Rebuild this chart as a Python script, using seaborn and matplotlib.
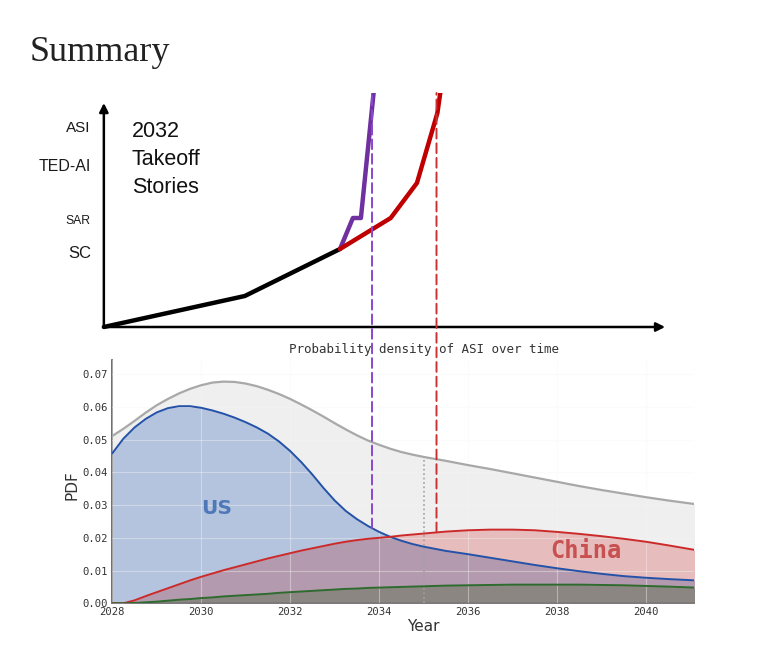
import numpy as np
import matplotlib.pyplot as plt
import seaborn as sns
from matplotlib.patches import ConnectionPatch

# ---- probability density of ASI arrival ----
years = [2028.0, 2028.25, 2028.5, 2028.75, 2029.0, 2029.25, 2029.5, 2029.75,
         2030.0, 2030.25, 2030.5, 2030.75, 2031.0, 2031.25, 2031.5, 2031.75,
         2032.0, 2032.25, 2032.5, 2032.75, 2033.0, 2033.25, 2033.5, 2033.75,
         2034.0, 2034.25, 2034.5, 2034.75, 2035.0,
         2035.5, 2036.0, 2036.5, 2037.0, 2037.5, 2038.0, 2038.5, 2039.0,
         2039.5, 2040.0, 2040.5, 2041.1]
all_pdf = [0.0511, 0.0533, 0.0557, 0.0582, 0.0605, 0.0624, 0.0641, 0.0655,
           0.0666, 0.0674, 0.0677, 0.0676, 0.0671, 0.0663, 0.0652, 0.0639,
           0.0624, 0.0607, 0.0589, 0.0570, 0.0550, 0.0531, 0.0513, 0.0497,
           0.0484, 0.0472, 0.0462, 0.0454, 0.0447,
           0.0435, 0.0422, 0.0410, 0.0397, 0.0384, 0.0371, 0.0358, 0.0346,
           0.0335, 0.0324, 0.0314, 0.0303]
us_pdf = [0.0458, 0.0503, 0.0537, 0.0563, 0.0583, 0.0596, 0.0602, 0.0602,
          0.0597, 0.0589, 0.0579, 0.0567, 0.0553, 0.0537, 0.0518, 0.0494,
          0.0465, 0.0431, 0.0393, 0.0352, 0.0314, 0.0282, 0.0257, 0.0236,
          0.0218, 0.0203, 0.0191, 0.0181, 0.0173,
          0.0160, 0.0150, 0.0139, 0.0128, 0.0117, 0.0107, 0.0098, 0.0090,
          0.0083, 0.0078, 0.0074, 0.0070]
china_pdf = [0.0, 0.0, 0.0009, 0.0022, 0.0034, 0.0046, 0.0058, 0.0070,
             0.0081, 0.0091, 0.0101, 0.0110, 0.0119, 0.0128, 0.0137, 0.0145,
             0.0153, 0.0161, 0.0168, 0.0175, 0.0182, 0.0188, 0.0193, 0.0197,
             0.0200, 0.0203, 0.0207, 0.0210, 0.0213,
             0.0219, 0.0223, 0.0225, 0.0225, 0.0223, 0.0218, 0.0212, 0.0205,
             0.0197, 0.0188, 0.0177, 0.0163]
other_pdf = [0.0, 0.0, 0.0001, 0.0003, 0.0005, 0.0008, 0.0011, 0.0013,
             0.0016, 0.0018, 0.0021, 0.0023, 0.0025, 0.0027, 0.0029, 0.0032,
             0.0034, 0.0036, 0.0038, 0.0040, 0.0042, 0.0044, 0.0045, 0.0047,
             0.0048, 0.0049, 0.0050, 0.0051, 0.0052,
             0.0054, 0.0055, 0.0056, 0.0057, 0.0057, 0.0057, 0.0057, 0.0056,
             0.0055, 0.0053, 0.0051, 0.0048]

x_ticks = [2028, 2030, 2032, 2034, 2036, 2038, 2040]
y_ticks = [0.00, 0.01, 0.02, 0.03, 0.04, 0.05, 0.06, 0.07]

# when each takeoff story hits ASI, and the pdf there
us_asi_year, us_asi_pdf = 2033.84, 0.0229
china_asi_year, china_asi_pdf = 2035.29, 0.0217
median_year, median_pdf = 2035.0, 0.0447

# ---- takeoff stories (capability over time) ----
milestones = ['SC', 'SAR', 'TED-AI', 'ASI']
milestone_levels = [75, 108, 162, 200]
milestone_sizes = [12, 8.7, 11.5, 11]
shared_years = [2027.81, 2030.98, 2033.12]
shared_level = [0, 31, 78]
us_story_years = [2033.12, 2033.41, 2033.59, 2033.90]
us_story_level = [78, 109, 109, 245]
china_story_years = [2033.12, 2034.26, 2034.85, 2035.31, 2035.41]
china_story_level = [78, 109, 144, 214, 245]

sns.set_theme(style='white')
plt.rcParams['font.family'] = ['DejaVu Sans']

W, H = 765, 661
fig = plt.figure(figsize=(W / 100, H / 100), dpi=100)

# lower panel: pixel box
x0, x1, yb, yt = 112.3, 694.0, 603.3, 360.0
xlim = (2028, 2041.08)
ylim = (0, 0.0743)
ax = fig.add_axes([x0 / W, 1 - yb / H, (x1 - x0) / W, (yb - yt) / H])
px_per_year = (x1 - x0) / (xlim[1] - xlim[0])

# upper panel shares the year scale
tx0, tyb, tyt = 95.0, 335.0, 93.0
ax_top = fig.add_axes([tx0 / W, 1 - tyb / H, (x1 - tx0) / W, (tyb - tyt) / H])
ax_top.set_xlim(xlim[0] - (x0 - tx0) / px_per_year, xlim[1])
ax_top.set_ylim(-8, 234)

yrs = np.array(years)
tot = np.array(all_pdf)
us = np.array(us_pdf)
cn = np.array(china_pdf)
ot = np.array(other_pdf)

ax.fill_between(yrs, 0, tot, color='#efefef', lw=0)
ax.fill_between(yrs, 0, us, color='#b4c4de', lw=0)
ax.fill_between(yrs, 0, cn, color='#e6bcbc', lw=0)
ax.fill_between(yrs, 0, np.minimum(us, cn), color='#b49aae', lw=0)
ax.fill_between(yrs, 0, ot, color='#8c8682', lw=0)

sns.lineplot(x=yrs, y=tot, ax=ax, color='#a8a8a8', lw=1.6, zorder=3)
sns.lineplot(x=yrs, y=us, ax=ax, color='#2352a8', lw=1.4, zorder=3)
sns.lineplot(x=yrs, y=cn, ax=ax, color='#cc2a2a', lw=1.4, zorder=3)
sns.lineplot(x=yrs, y=ot, ax=ax, color='#2e6b2e', lw=1.4, zorder=3)

ax.vlines(median_year, 0, median_pdf, colors='#a0a0a0', linestyles=':', lw=1.2, zorder=3)

ax.set_xlim(*xlim)
ax.set_ylim(*ylim)
ax.set_xticks(x_ticks)
ax.set_yticks(y_ticks)
ax.set_yticklabels([f'{v:.2f}' for v in y_ticks])
ax.tick_params(length=0, labelsize=7.6, colors='#333333', pad=3)
for lab in ax.get_xticklabels() + ax.get_yticklabels():
    lab.set_family('DejaVu Sans Mono')
ax.set_axisbelow(False)
ax.grid(True, color='#f6f6f6', lw=0.8, alpha=0.4)
for s in ['top', 'right']:
    ax.spines[s].set_visible(False)
ax.spines['left'].set_color('#555555')
ax.spines['bottom'].set_color('#777777')
ax.spines['left'].set_linewidth(1.2)
ax.spines['bottom'].set_linewidth(1.2)

ax.set_xlabel('Year', fontsize=11, color='#333333')
ax.xaxis.set_label_coords(0.534, -0.065)
ax.set_ylabel('PDF', fontsize=11, color='#333333')
ax.yaxis.set_label_coords(-0.056, 0.486)

ax.text(2030.35, 0.0273, 'US', color='#4f78b8', fontsize=14.5, fontweight='bold',
        family='DejaVu Sans', ha='center', va='baseline', zorder=4)
ax.text(2038.64, 0.0138, 'China', color='#c85050', fontsize=17, fontweight='bold',
        family='DejaVu Sans Mono', ha='center', va='baseline', zorder=4)

fig.text(424 / W, 1 - 349 / H, 'Probability density of ASI over time',
         family='DejaVu Sans Mono', fontsize=9, color='#333333', ha='center', va='center')

# ---- top diagram ----
sns.lineplot(x=shared_years, y=shared_level, ax=ax_top, color='black', lw=3.2, sort=False)
sns.lineplot(x=us_story_years, y=us_story_level, ax=ax_top, color='#7030a0', lw=3.2, sort=False)
sns.lineplot(x=china_story_years, y=china_story_level, ax=ax_top, color='#c00000', lw=3.2, sort=False)

arrow = dict(arrowstyle='-|>', color='black', lw=1.8, mutation_scale=13, shrinkA=0, shrinkB=0)
origin = (shared_years[0], 0)
ax_top.annotate('', xy=(shared_years[0], 224), xytext=origin, arrowprops=arrow, annotation_clip=False)
ax_top.annotate('', xy=(2040.43, 0), xytext=origin, arrowprops=arrow, annotation_clip=False)

ax_top.set_yticks(milestone_levels)
ax_top.set_yticklabels(milestones)
for lab, fs in zip(ax_top.get_yticklabels(), milestone_sizes):
    lab.set_fontsize(fs)
    lab.set_family('Liberation Sans')
    lab.set_color('#1a1a1a')
ax_top.tick_params(axis='y', length=0, pad=3)
ax_top.set_xticks([])
for s in ax_top.spines.values():
    s.set_visible(False)
ax_top.patch.set_alpha(0)

fig.text(132 / W, 1 - 121 / H, '2032\nTakeoff\nStories', family='Liberation Sans',
         fontsize=15.5, color='#111111', ha='left', va='top', linespacing=1.43)

# dashed drop lines from the ASI hit point down to the pdf
for yr, val, col in [(us_asi_year, us_asi_pdf, '#8a48cc'), (china_asi_year, china_asi_pdf, '#c83232')]:
    con = ConnectionPatch(xyA=(yr, val), coordsA=ax.transData,
                          xyB=(yr, 234), coordsB=ax_top.transData,
                          color=col, lw=1.4, linestyle=(0, (5, 2.5)), zorder=5)
    fig.add_artist(con)

fig.text(30 / W, 1 - 61 / H, 'Summary', family='Liberation Serif', fontsize=26,
         color='#222222', ha='left', va='baseline')

plt.savefig('out.png', dpi=100)
